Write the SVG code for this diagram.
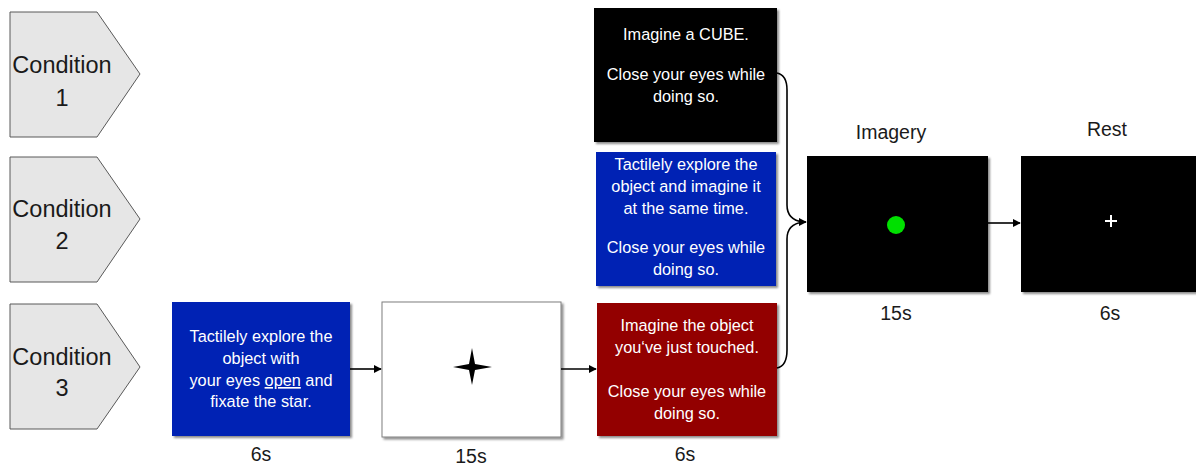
<svg xmlns="http://www.w3.org/2000/svg" width="1196" height="466" viewBox="0 0 1196 466">
  <defs>
    <filter id="shadow" x="-5%" y="-5%" width="115%" height="115%">
      <feDropShadow dx="2" dy="2" stdDeviation="1.2" flood-color="#000" flood-opacity="0.45"/>
    </filter>
    <marker id="arrow" viewBox="0 0 10 10" refX="9" refY="5" markerWidth="5" markerHeight="5" orient="auto">
      <path d="M0,0 L10,5 L0,10 z" fill="#000"/>
    </marker>
    <style>
      .cond { fill: #e6e6e6; stroke: #595959; stroke-width: 1; }
      .condtxt { font-family: "Liberation Sans", Arial, sans-serif; font-size: 23.5px; fill: #1a1a1a; text-anchor: middle; }
      .screen { filter: url(#shadow); }
      .wt { font-family: "Liberation Sans", Arial, sans-serif; font-size: 16.3px; fill: #ffffff; text-anchor: middle; }
      .lbl { font-family: "Liberation Sans", Arial, sans-serif; font-size: 19.5px; fill: #1a1a1a; text-anchor: middle; }
      .conn { fill: none; stroke: #000; stroke-width: 1.6; }
    </style>
  </defs>

  <rect width="1196" height="466" fill="#ffffff"/>

  <!-- condition tags -->
  <g id="condition1">
    <polygon class="cond" points="10,12 97,12 140,74 97,137 10,137"/>
    <text class="condtxt" x="62" y="73">Condition</text>
    <text class="condtxt" x="62" y="106">1</text>
  </g>
  <g id="condition2">
    <polygon class="cond" points="10,157 97,157 140,219 97,282 10,282"/>
    <text class="condtxt" x="62" y="217">Condition</text>
    <text class="condtxt" x="62" y="249">2</text>
  </g>
  <g id="condition3">
    <polygon class="cond" points="10,304 97,304 140,367 97,429 10,429"/>
    <text class="condtxt" x="62" y="365">Condition</text>
    <text class="condtxt" x="62" y="396">3</text>
  </g>

  <!-- condition 3: tactile exploration -->
  <g id="explore">
    <rect class="screen" x="172" y="302" width="178" height="134" fill="#0220b4"/>
    <text class="wt" x="261" y="342">Tactilely explore the</text>
    <text class="wt" x="261" y="364">object with</text>
    <text class="wt" x="261" y="386">your eyes <tspan text-decoration="underline">open</tspan> and</text>
    <text class="wt" x="261" y="407">fixate the star.</text>
    <text class="lbl" x="261" y="461">6s</text>
  </g>

  <!-- fixation star -->
  <g id="fixation">
    <rect class="screen" x="382" y="302" width="179" height="135" fill="#ffffff" stroke="#7f7f7f" stroke-width="1"/>
    <path d="M472,348 L475,364 L492,367 L475,370 L472,385 L469,370 L453,367 L469,364 Z" fill="#000"/>
    <text class="lbl" x="471" y="463">15s</text>
  </g>

  <!-- condition 3: imagine touched object -->
  <g id="imagine-touched">
    <rect class="screen" x="597" y="303" width="180" height="133" fill="#930000"/>
    <text class="wt" x="687" y="331">Imagine the object</text>
    <text class="wt" x="687" y="353">you‘ve just touched.</text>
    <text class="wt" x="687" y="397">Close your eyes while</text>
    <text class="wt" x="687" y="419">doing so.</text>
    <text class="lbl" x="685" y="461">6s</text>
  </g>

  <!-- condition 1: imagine a cube -->
  <g id="imagine-cube">
    <rect class="screen" x="594" y="8" width="183" height="134" fill="#000000"/>
    <text class="wt" x="686" y="40">Imagine a CUBE.</text>
    <text class="wt" x="686" y="80">Close your eyes while</text>
    <text class="wt" x="686" y="102">doing so.</text>
  </g>

  <!-- condition 2: explore and imagine -->
  <g id="explore-imagine">
    <rect class="screen" x="596" y="152" width="180" height="134" fill="#0220b4"/>
    <text class="wt" x="686" y="170">Tactilely explore the</text>
    <text class="wt" x="686" y="192">object and imagine it</text>
    <text class="wt" x="686" y="214">at the same time.</text>
    <text class="wt" x="686" y="253">Close your eyes while</text>
    <text class="wt" x="686" y="275">doing so.</text>
  </g>

  <!-- imagery period -->
  <g id="imagery">
    <text class="lbl" x="891" y="139">Imagery</text>
    <rect class="screen" x="807" y="156" width="181" height="136" fill="#000000"/>
    <circle cx="896" cy="225" r="9" fill="#00e000"/>
    <text class="lbl" x="896" y="320">15s</text>
  </g>

  <!-- rest period -->
  <g id="rest">
    <text class="lbl" x="1107" y="136">Rest</text>
    <rect class="screen" x="1021" y="156" width="180" height="136" fill="#000000"/>
    <path d="M1111,215 V227 M1105,221 H1117" stroke="#ffffff" stroke-width="2"/>
    <text class="lbl" x="1110" y="320">6s</text>
  </g>

  <!-- connectors -->
  <g id="connectors">
    <line class="conn" x1="350" y1="369" x2="381" y2="369" marker-end="url(#arrow)"/>
    <line class="conn" x1="561" y1="369" x2="596" y2="369" marker-end="url(#arrow)"/>
    <path class="conn" d="M777,73 Q787,75 787,90 V205 Q787,220 803,222 Q787,224 787,239 V350 Q787,366 777,368"/>
    <line class="conn" x1="803" y1="222" x2="806" y2="222" marker-end="url(#arrow)"/>
    <line class="conn" x1="988" y1="223" x2="1020" y2="223" marker-end="url(#arrow)"/>
  </g>
</svg>
